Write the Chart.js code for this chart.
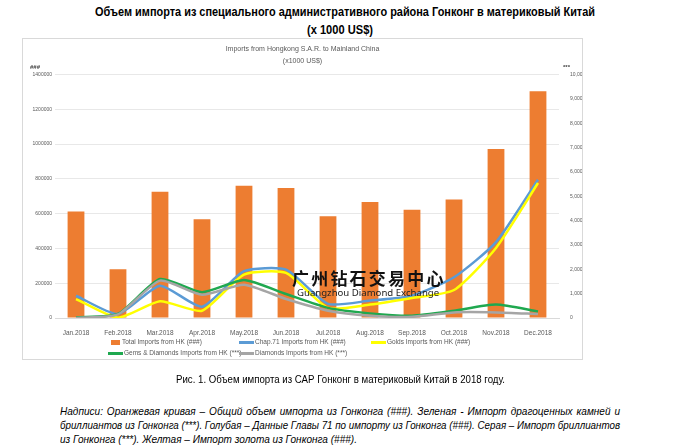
<!DOCTYPE html>
<html>
<head>
<meta charset="utf-8">
<script src="https://cdn.jsdelivr.net/npm/chart.js@4/dist/chart.umd.min.js"></script>
<style>
  body { margin: 0; background: #fff; width: 680px; height: 447px; position: relative; overflow: hidden; }
  .fit { position: absolute; white-space: nowrap; transform-origin: 0 0; }
  .head { font-family: "Liberation Sans", sans-serif; font-weight: bold; font-size: 13px; color: #000; }
  #box { position: absolute; left: 22px; top: 38px; width: 561px; height: 322px; border: 1px solid #d9d9d9; box-sizing: border-box; }
  #box canvas { position: absolute; left: 0; top: 0; }
  .leg { position: absolute; font-family: "Liberation Sans", sans-serif; font-size: 6.5px; color: #595959; white-space: nowrap; line-height: 8px; }
  .leg i { display: inline-block; vertical-align: middle; margin-right: 1px; }
  .logo { position: absolute; left: 292px; top: 267px; font-family: "Noto Sans CJK SC", sans-serif; font-weight: bold; font-size: 17px; letter-spacing: 2.2px; color: #111; line-height: 22px; }
  .logo2 { position: absolute; left: 297px; top: 286px; font-family: "Noto Sans", sans-serif; font-size: 9.6px; color: #222; }
  .cap { font-family: "Liberation Sans", sans-serif; font-size: 10px; color: #000; }
  .note { font-family: "Liberation Sans", sans-serif; font-style: italic; font-size: 11px; color: #000; line-height: 14px; }
  .just { text-align: justify; text-align-last: justify; }
</style>
</head>
<body>
<div class="fit head" id="h1" style="left:95px;top:4px">Объем импорта из специального административного района Гонконг в материковый Китай</div>
<div class="fit head" id="h2" style="left:307px;top:22px">(x 1000 US$)</div>

<div id="box"><canvas id="c" width="559" height="320"></canvas></div>
<div id="legend"></div>

<div class="logo">广州钻石交易中心</div>
<div class="logo2">Guangzhou Diamond Exchange</div>

<div class="fit cap" id="cap" style="left:176px;top:374px">Рис. 1. Объем импорта из САР Гонконг в материковый Китай в 2018 году.</div>
<div class="fit note just" id="n1" style="left:60px;top:404px">Надписи: Оранжевая кривая – Общий объем импорта из Гонконга (###). Зеленая - Импорт драгоценных камней и</div>
<div class="fit note just" id="n2" style="left:60px;top:418px">бриллиантов из Гонконга (***). Голубая – Данные Главы 71 по импорту из Гонконга (###). Серая – Импорт бриллиантов</div>
<div class="fit note" id="n3" style="left:60px;top:432px">из Гонконга (***). Желтая – Импорт золота из Гонконга (###).</div>

<script>
var months = ["Jan.2018", "Feb.2018", "Mar.2018", "Apr.2018", "May.2018", "Jun.2018",
              "Jul.2018", "Aug.2018", "Sep.2018", "Oct.2018", "Nov.2018", "Dec.2018"];

// left axis (###)
var totalImports = [612000, 280000, 726000, 568000, 760000, 748000, 585000, 667000, 622000, 682000, 972000, 1303000];
var chap71Imports = [128000, 23000, 186000, 65000, 269000, 278000, 81000, 100000, 128000, 234000, 436000, 795000];
var goldImports = [109000, 2000, 96000, 42000, 250000, 259000, 58000, 77000, 115000, 161000, 403000, 776000];

// right axis (***)
var gemsImports = [20, 165, 1600, 1060, 1560, 985, 415, 190, 95, 300, 550, 270];
var diamondImports = [0, 145, 1535, 955, 1370, 780, 300, 95, 50, 230, 230, 165];

var leftTicks = [0, 200000, 400000, 600000, 800000, 1000000, 1200000, 1400000];

// squeeze the text lines horizontally to the widths they have in the original
function fitTo(id, w) {
    var el = document.getElementById(id);
    var s = w / el.getBoundingClientRect().width;
    el.style.transform = "scaleX(" + s + ")";
    return s;
}
fitTo("h1", 500);
fitTo("h2", 66);
fitTo("cap", 329);
var ns = fitTo("n3", 297);
["n1", "n2"].forEach(function(id) {
    var el = document.getElementById(id);
    var nat = el.getBoundingClientRect().width;
    var s = Math.min(ns, 560 / nat);
    el.style.width = (560 / s) + "px";
    el.style.transform = "scaleX(" + s + ")";
});

var axisText = {
    id: "axisText",
    afterDraw: function(chart) {
        var ctx = chart.ctx;
        ctx.save();
        ctx.fillStyle = "#404040";
        ctx.font = "bold 6px Liberation Sans";
        ctx.textBaseline = "bottom";
        ctx.textAlign = "left";
        ctx.fillText("###", 7, chart.chartArea.top - 4);
        ctx.fillText("***", chart.scales.y2.left + 4, chart.chartArea.top - 4);
        ctx.restore();
    }
};

var ctx = document.getElementById("c");
var chart = new Chart(ctx, {
    type: "bar",
    data: {
        labels: months,
        datasets: [
            { label: "Total Imports from HK (###)", data: totalImports, backgroundColor: "#ED7D31",
              yAxisID: "y", barPercentage: 0.4, categoryPercentage: 1, order: 6 },
            { type: "line", label: "Chap.71 Imports from HK (###)", data: chap71Imports, borderColor: "#5B9BD5",
              yAxisID: "y", borderWidth: 2.5, pointRadius: 0, tension: 0.2, order: 5 },
            { type: "line", label: "Golds Imports from HK (###)", data: goldImports, borderColor: "#FFFF00",
              yAxisID: "y", borderWidth: 2.5, pointRadius: 0, tension: 0.2, order: 4 },
            { type: "line", label: "Gems & Diamonds Imports from HK (***)", data: gemsImports, borderColor: "#1FA84F",
              yAxisID: "y2", borderWidth: 2.5, pointRadius: 0, tension: 0.2, order: 3 },
            { type: "line", label: "Diamonds Imports from HK (***)", data: diamondImports, borderColor: "#A5A5A5",
              yAxisID: "y2", borderWidth: 2.5, pointRadius: 0, tension: 0.2, order: 2 }
        ]
    },
    options: {
        responsive: false,
        animation: false,
        layout: { padding: 0 },
        plugins: {
            legend: { display: false },
            tooltip: { enabled: false },
            title: {
                display: true,
                text: ["Imports from Hongkong S.A.R. to Mainland China", "(x1000 US$)"],
                color: "#595959",
                font: { family: "Liberation Sans", size: 7, weight: "normal", lineHeight: 1.75 },
                padding: { top: 4, bottom: 7 }
            }
        },
        scales: {
            x: {
                grid: { display: false },
                border: { color: "#d9d9d9" },
                ticks: { color: "#595959", font: { family: "Liberation Sans", size: 6.5 }, padding: 3, maxRotation: 0 },
                afterFit: function(s) { s.height = 41; }
            },
            y: {
                position: "left",
                min: 0, max: 1400000,
                afterBuildTicks: function(s) { s.ticks = leftTicks.map(function(v) { return { value: v }; }); },
                grid: { color: "#e8e8e8", drawTicks: false },
                border: { display: false },
                ticks: { color: "#595959", font: { family: "Liberation Sans", size: 5 }, padding: 3,
                         callback: function(v) { return String(v); } },
                afterFit: function(s) { s.width = 32; }
            },
            y2: {
                position: "right",
                min: 0, max: 10000,
                ticks: { stepSize: 1000, color: "#595959", font: { family: "Liberation Sans", size: 5 }, padding: 3,
                         callback: function(v) { return v.toLocaleString("en-US"); } },
                grid: { display: false },
                border: { display: false },
                afterFit: function(s) { s.width = 23; }
            }
        }
    },
    plugins: [axisText]
});

// legend laid out in a grid like the original
var legendPos = [[108, 338], [239, 338], [371, 338], [108, 349], [239, 349]];
var html = "";
chart.data.datasets.forEach(function(ds, k) {
    var sw = ds.type === "line"
        ? '<i style="width:15px;height:2.5px;background:' + ds.borderColor + '"></i>'
        : '<i style="width:9px;height:5px;background:' + ds.backgroundColor + ';margin-left:3px;margin-right:2px"></i>';
    html += '<div class="leg" style="left:' + legendPos[k][0] + 'px;top:' + legendPos[k][1] + 'px">' + sw + ds.label + '</div>';
});
document.getElementById("legend").innerHTML = html;
</script>
</body>
</html>
